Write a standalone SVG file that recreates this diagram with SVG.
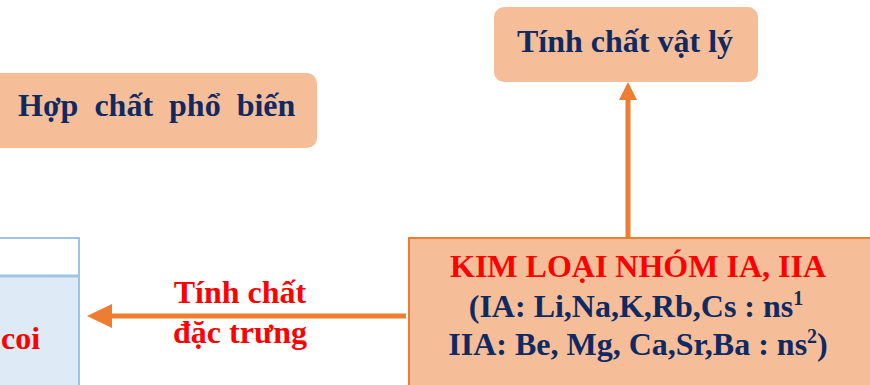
<svg xmlns="http://www.w3.org/2000/svg" width="870" height="385" viewBox="0 0 870 385">
<style>
.pill{fill:#F5BE98;}
.t{font-family:"Liberation Serif","Times New Roman",serif;font-weight:bold;font-size:32px;}
.navy{fill:#0F2A63;}
.red{fill:#FF0000;}
.conn{stroke:#ED7D31;stroke-width:5;fill:none;}
.sup{font-size:20px;}
</style>
<rect width="870" height="385" fill="#FFFFFF"/>
<g id="left-box">
<rect x="-10" y="238" width="89" height="160" fill="#DEEAF6" stroke="#9DC3E6" stroke-width="2"/>
<rect x="-10" y="238" width="89" height="38" fill="#FFFFFF" stroke="#9DC3E6" stroke-width="2"/>
<line x1="-10" y1="276" x2="79" y2="276" stroke="#9DC3E6" stroke-width="3"/>
<text class="t red" x="1" y="349">coi</text>
</g>
<g id="hop-chat">
<rect class="pill" x="-10" y="73" width="327" height="75" rx="10"/>
<text class="t navy" x="18" y="116" word-spacing="8">Hợp chất phổ biến</text>
</g>
<g id="vat-ly">
<rect class="pill" x="494" y="7" width="264" height="75" rx="10"/>
<text class="t navy" x="625" y="52" text-anchor="middle">Tính chất vật lý</text>
</g>
<g id="connectors">
<line class="conn" x1="628" y1="237" x2="628" y2="100"/>
<path d="M628,82 L619,100 L637,100 Z" fill="#ED7D31"/>
<line class="conn" x1="406" y1="316" x2="110" y2="316" stroke-width="6"/>
<path d="M87,316 L112,304 L112,328 Z" fill="#ED7D31"/>
<text class="t red" x="240" y="303" text-anchor="middle">Tính chất</text>
<text class="t red" x="240" y="343" text-anchor="middle">đặc trưng</text>
</g>
<g id="kim-loai">
<rect x="409" y="238" width="470" height="160" fill="#F5BE98" stroke="#ED7D31" stroke-width="2"/>
<text class="t red" x="638" y="277" text-anchor="middle">KIM LOẠI NHÓM IA, IIA</text>
<text class="t navy" x="636" y="317" text-anchor="middle">(IA: Li,Na,K,Rb,Cs : ns<tspan class="sup" dy="-12">1</tspan></text>
<text class="t navy" x="638" y="355" text-anchor="middle">IIA: Be, Mg, Ca,Sr,Ba : ns<tspan class="sup" dy="-12">2</tspan><tspan dy="12">)</tspan></text>
</g>
</svg>
